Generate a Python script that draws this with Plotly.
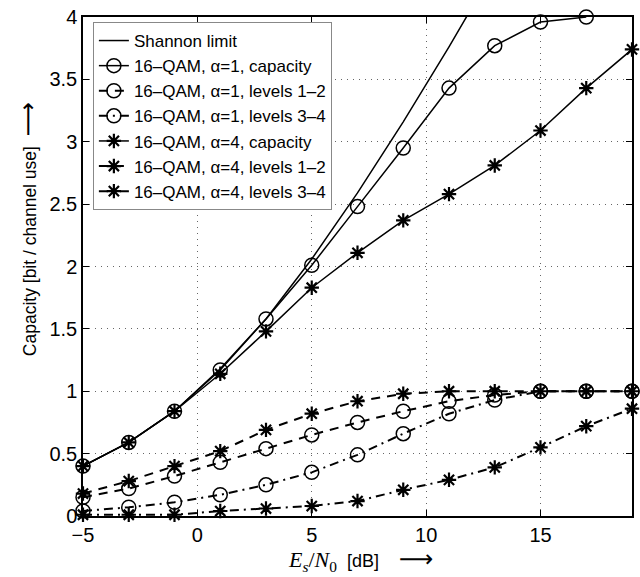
import plotly.graph_objects as go

# ---- data ----
esn0 = [-5, -3, -1, 1, 3, 5, 7, 9, 11, 13, 15, 17, 19]
shannon_x = [-5, -3, -1, 1, 3, 5, 7, 9, 11, 13]
shannon = [0.40, 0.59, 0.84, 1.18, 1.58, 2.06, 2.59, 3.16, 3.76, 4.39]
cap_a1_x = [-5, -3, -1, 1, 3, 5, 7, 9, 11, 13, 15, 17]
cap_a1 = [0.40, 0.59, 0.84, 1.17, 1.58, 2.01, 2.48, 2.95, 3.43, 3.77, 3.96, 4.00]
lev12_a1 = [0.15, 0.22, 0.32, 0.43, 0.54, 0.65, 0.75, 0.84, 0.92, 0.97, 1.00, 1.00, 1.00]
lev34_a1 = [0.04, 0.07, 0.11, 0.17, 0.25, 0.35, 0.49, 0.66, 0.82, 0.93, 1.00, 1.00, 1.00]
cap_a4 = [0.40, 0.59, 0.84, 1.14, 1.48, 1.83, 2.11, 2.37, 2.58, 2.81, 3.09, 3.43, 3.74]
lev12_a4 = [0.18, 0.28, 0.40, 0.52, 0.69, 0.82, 0.92, 0.98, 1.00, 1.00, 1.00, 1.00, 1.00]
lev34_a4 = [0.01, 0.01, 0.01, 0.04, 0.06, 0.08, 0.12, 0.21, 0.29, 0.39, 0.55, 0.72, 0.86]

names = [
    "Shannon limit",
    "16\u2013QAM, \u03b1=1, capacity",
    "16\u2013QAM, \u03b1=1, levels 1\u20132",
    "16\u2013QAM, \u03b1=1, levels 3\u20134",
    "16\u2013QAM, \u03b1=4, capacity",
    "16\u2013QAM, \u03b1=4, levels 1\u20132",
    "16\u2013QAM, \u03b1=4, levels 3\u20134",
]

DASH = "9px,7px"
DASHDOT = "9px,5px,2px,5px"
FONT = "Liberation Sans, Arial, sans-serif"

circ = dict(symbol="circle-open", size=14, color="black", line=dict(width=1.5))
star = dict(symbol="asterisk-open", size=12, color="black", line=dict(width=2.2, color="black"))

fig = go.Figure()
fig.add_trace(go.Scatter(x=shannon_x, y=shannon, name=names[0], mode="lines",
                         line=dict(color="black", width=1.5)))
fig.add_trace(go.Scatter(x=cap_a1_x, y=cap_a1, name=names[1], mode="lines+markers",
                         line=dict(color="black", width=1.5), marker=circ,
                         cliponaxis=False))
fig.add_trace(go.Scatter(x=esn0, y=lev12_a1, name=names[2], mode="lines+markers",
                         line=dict(color="black", width=2, dash=DASH), marker=circ,
                         cliponaxis=False))
fig.add_trace(go.Scatter(x=esn0, y=lev34_a1, name=names[3], mode="lines+markers",
                         line=dict(color="black", width=2, dash=DASHDOT), marker=circ,
                         cliponaxis=False))
fig.add_trace(go.Scatter(x=esn0, y=cap_a4, name=names[4], mode="lines+markers",
                         line=dict(color="black", width=1.5), marker=star,
                         cliponaxis=False))
fig.add_trace(go.Scatter(x=esn0, y=lev12_a4, name=names[5], mode="lines+markers",
                         line=dict(color="black", width=2, dash=DASH), marker=star,
                         cliponaxis=False))
fig.add_trace(go.Scatter(x=esn0, y=lev34_a4, name=names[6], mode="lines+markers",
                         line=dict(color="black", width=2, dash=DASHDOT), marker=star,
                         cliponaxis=False))

axis_common = dict(
    showline=True, linecolor="black", linewidth=1.5, mirror="ticks",
    ticks="inside", ticklen=6, tickcolor="black", tickwidth=1,
    showgrid=True, gridcolor="#666", gridwidth=1, griddash="1px,5px",
    zeroline=False, tickfont=dict(family=FONT, size=20, color="black"),
)

fig.update_xaxes(range=[-5, 19], tickvals=[-5, 0, 5, 10, 15],
                 ticktext=["\u22125", "0", "5", "10", "15"], **axis_common)
fig.update_yaxes(range=[0, 4], tickvals=[0, 0.5, 1, 1.5, 2, 2.5, 3, 3.5, 4],
                 ticktext=["0", "0.5", "1", "1.5", "2", "2.5", "3", "3.5", "4"],
                 **axis_common)

ARROW = "<span style=\"font-family:'DejaVu Sans'; font-size:24px\">\u27f6</span>"

fig.update_layout(
    width=640, height=577,
    margin=dict(l=83, r=6, t=13, b=61),
    paper_bgcolor="white", plot_bgcolor="white",
    font=dict(family=FONT, color="black"),
    showlegend=True,
    legend=dict(x=0.018, y=0.99, xanchor="left", yanchor="top",
                bgcolor="white", bordercolor="#888", borderwidth=1,
                font=dict(family=FONT, size=17, color="black"),
                tracegroupgap=0),
    annotations=[
        dict(text="Capacity [bit / channel use]&nbsp;&nbsp;" + ARROW,
             xref="paper", yref="paper", x=-0.1, y=0.575,
             xanchor="center", yanchor="middle", textangle=-90,
             showarrow=False, font=dict(family=FONT, size=17.5, color="black")),
        dict(text="<span style=\"font-family:'Liberation Serif', serif; font-size:22px\">"
                  "<i>E</i><sub><i>s</i></sub>/<i>N</i><sub>0</sub></span>"
                  "&nbsp;&nbsp;[dB]&nbsp;&nbsp;&nbsp;&nbsp;" + ARROW,
             xref="paper", yref="paper", x=0.505, y=-0.088,
             xanchor="center", yanchor="middle",
             showarrow=False, font=dict(family=FONT, size=18, color="black")),
    ],
)

fig.write_html("out.html")
